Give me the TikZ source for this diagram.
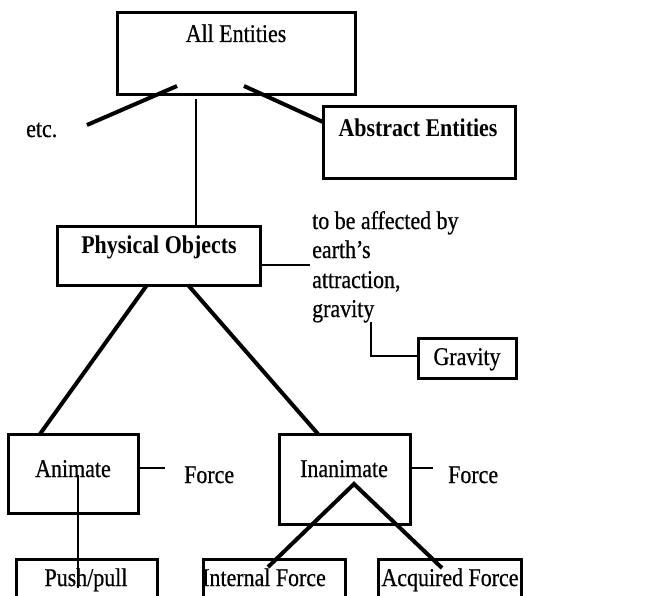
\documentclass[tikz,border=0pt]{standalone}
\usepackage{fontspec}
\setmainfont{Liberation Serif}[FakeStretch=0.86,UprightFeatures={FakeBold=0.6}]
\begin{document}
\begin{tikzpicture}[x=1pt,y=-1pt,
  box/.style={draw=black,line width=3pt,inner sep=0pt},
  txt/.style={inner sep=0pt,anchor=base,font=\fontsize{25.5}{30}\selectfont},
  btxt/.style={txt,font=\fontsize{25.5}{30}\selectfont\bfseries},
  thickline/.style={line width=4pt},
  thinline/.style={line width=2.4pt}]
\useasboundingbox (0,0) rectangle (655,596);
\clip (0,0) rectangle (655,596);
% boxes
\node[box,minimum width=238pt,minimum height=82pt] (all) at (236,54) {};
\node[box,minimum width=192pt,minimum height=71pt] (abs) at (419,142.5) {};
\node[box,minimum width=203pt,minimum height=59pt] (phys) at (158.5,255.5) {};
\node[box,minimum width=98pt,minimum height=40pt] (grav) at (467,358) {};
\node[box,minimum width=130pt,minimum height=79pt] (anim) at (73,473.5) {};
\node[box,minimum width=131pt,minimum height=90pt] (inan) at (344.5,479) {};
\node[box,minimum width=141pt,minimum height=70pt] (push) at (86.5,594) {};
\node[box,minimum width=142pt,minimum height=70pt] (intf) at (274,594) {};
\node[box,minimum width=143pt,minimum height=70pt] (acqf) at (449.5,594) {};
% labels
\node[txt] (allT) at (236,42) {All Entities};
\node[btxt] (absT) at (418,137) {Abstract Entities};
\node[btxt] (physT) at (159,253) {Physical Objects};
\node[txt] (gravT) at (467,365) {Gravity};
\node[txt] (animT) at (73,477) {Animate};
\node[txt] (inanT) at (344,477) {Inanimate};
\node[txt] (pushT) at (86,586) {Push/pull};
\node[txt] (intfT) at (264,586) {Internal Force};
\node[txt] (acqfT) at (450,586) {Acquired Force};
\node[txt,anchor=base west] (etc) at (26,137) {etc.};
\node[txt,anchor=base west] (force1) at (184,483) {Force};
\node[txt,anchor=base west] (force2) at (448,483) {Force};
\node[txt,anchor=base west] (d1) at (312,229) {to be affected by};
\node[txt,anchor=base west] (d2) at (312,258) {earth’s};
\node[txt,anchor=base west] (d3) at (312,288) {attraction,};
\node[txt,anchor=base west] (d4) at (312,317) {gravity};
% connector coordinates
\coordinate (etcA) at (87,125);
\coordinate (etcB) at (177,86);
\coordinate (absA) at (244,86);
\coordinate (absB) at (323,122);
\coordinate (vA) at (196,99);
\coordinate (vB) at (196,226);
\coordinate (sideB) at (310,265);
\coordinate (gA) at (371,322);
\coordinate (gB) at (371,356);
\coordinate (pL) at (147,285);
\coordinate (pR) at (188,285);
\coordinate (aTop) at (40,434);
\coordinate (iTop) at (318,434);
\coordinate (f1) at (165,468);
\coordinate (f2) at (433,468);
\coordinate (apA) at (78,475);
\coordinate (apB) at (78,588);
\coordinate (apex) at (354,484);
\coordinate (ifE) at (268,567);
\coordinate (afE) at (442,568);
% connectors
\draw[thickline] (etcA) -- (etcB);
\draw[thickline] (absA) -- (absB);
\draw[thinline] (vA) -- (vB);
\draw[thinline] (phys.east |- sideB) -- (sideB);
\draw[thinline] (gA) -- (gB) -- (grav.west |- gB);
\draw[thickline] (pL) -- (aTop);
\draw[thickline] (pR) -- (iTop);
\draw[thinline] (anim.east |- f1) -- (f1);
\draw[thinline] (inan.east |- f2) -- (f2);
\draw[thinline] (apA) -- (apB);
\draw[thickline] (ifE) -- (apex) -- (afE);
\end{tikzpicture}
\end{document}
